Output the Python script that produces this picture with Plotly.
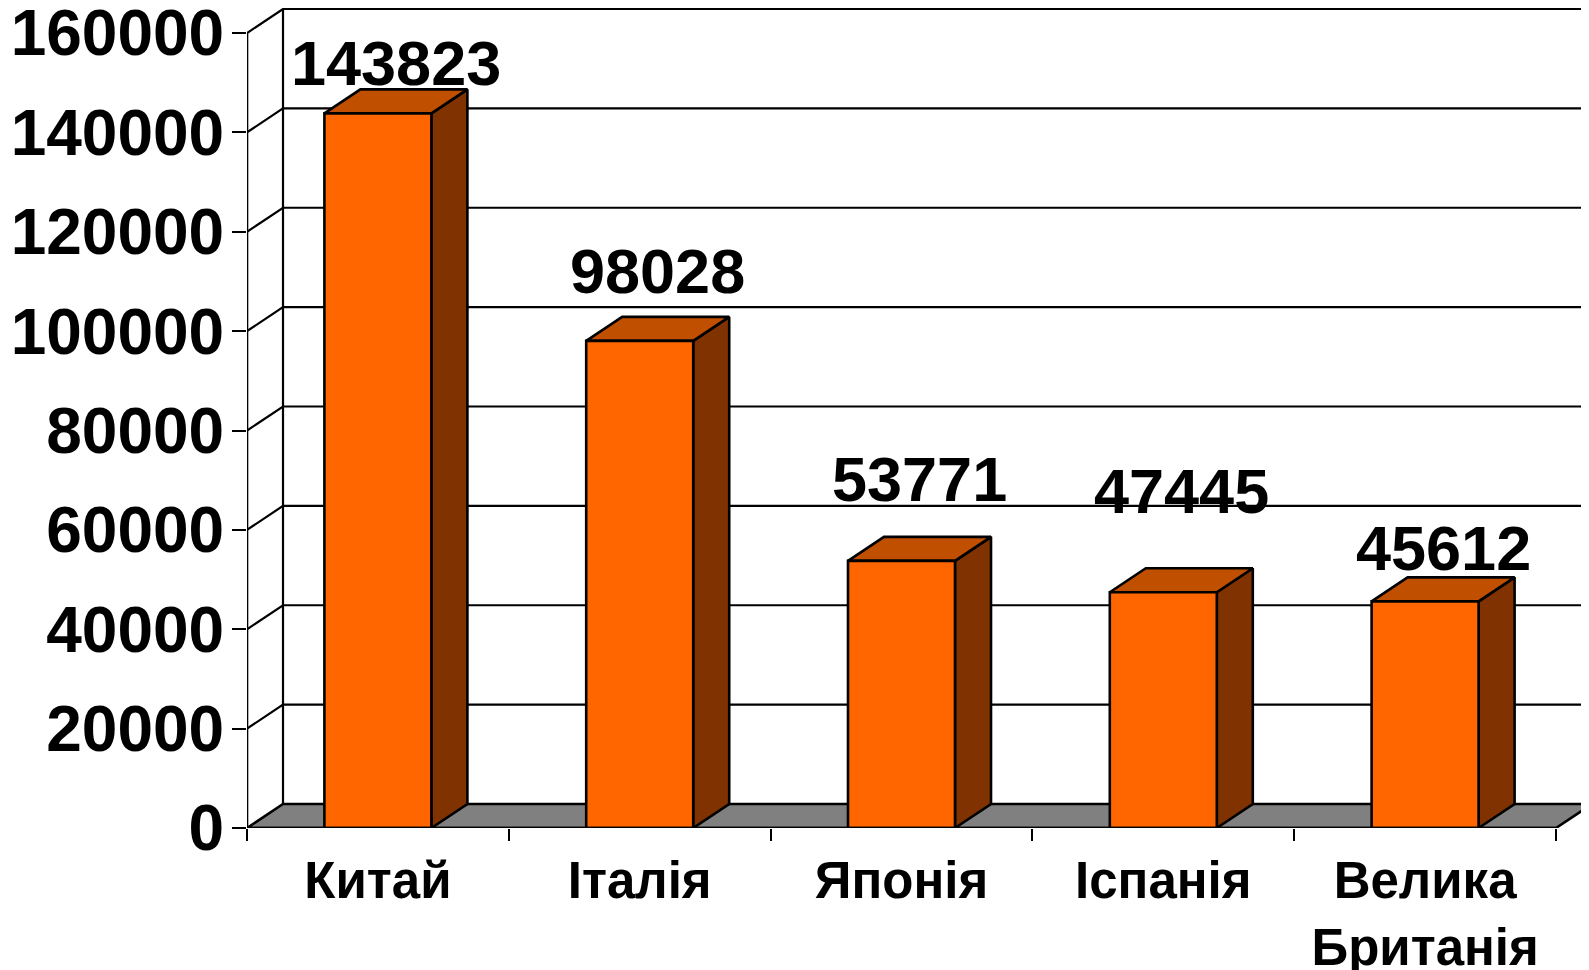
import plotly.graph_objects as go

# ---- data ----
countries = ["Китай", "Італія", "Японія", "Іспанія", "Велика<br>Британія"]
values = [143823, 98028, 53771, 47445, 45612]
y_ticks = [0, 20000, 40000, 60000, 80000, 100000, 120000, 140000, 160000]
y_max = 160000

# ---- geometry / style (pixels -> data units) ----
# page body has an 8px margin, so the figure is sized to fit inside the window
W, H = 1581, 962
ML, MB = 239, 142
PX_PER_CAT = 261.8
UNITS_PER_PX = y_max / 795.0
DX = 36 / PX_PER_CAT          # depth offset in category units
DY = 24 * UNITS_PER_PX        # depth offset in value units
HW = 53.5 / PX_PER_CAT        # half width of bar front face
x_lo = -0.5
x_hi = x_lo + (W - ML) / PX_PER_CAT
y_top = (H - MB) * UNITS_PER_PX
n = len(countries)

FRONT = "#FF6600"
TOP = "#C05000"
SIDE = "#803300"
FLOOR = "#808080"
FONT = "Liberation Sans"
LW = 2.6

fig = go.Figure()

def poly(xs, ys, fill, width=LW):
    fig.add_trace(go.Scatter(x=xs, y=ys, mode="lines", fill="toself", fillcolor=fill,
                             line=dict(color="black", width=width), hoverinfo="skip",
                             showlegend=False))

def line(xs, ys, width=LW):
    fig.add_trace(go.Scatter(x=xs, y=ys, mode="lines", line=dict(color="black", width=width),
                             hoverinfo="skip", showlegend=False))

# back wall gridlines + side wall diagonals
gx, gy = [], []
for t in y_ticks[1:]:
    gx += [x_lo, x_lo + DX, x_hi + 1, None]
    gy += [t, t + DY, t + DY, None]
line(gx, gy, 2.2)
# back wall left edge
line([x_lo + DX, x_lo + DX], [DY, y_max + DY], 2.2)

# floor
x_end = x_lo + n
poly([x_lo, x_end, x_end + DX, x_lo + DX, x_lo], [0, 0, DY, DY, 0], FLOOR)

# bars
fx, fy, tx, ty, sx, sy = [], [], [], [], [], []
for i, v in enumerate(values):
    a, b = i - HW, i + HW
    fx += [a, b, b, a, a, None]; fy += [0, 0, v, v, 0, None]
    tx += [a, b, b + DX, a + DX, a, None]; ty += [v, v, v + DY, v + DY, v, None]
    sx += [b, b + DX, b + DX, b, b, None]; sy += [0, DY, v + DY, v, 0, None]
poly(sx, sy, SIDE)
poly(tx, ty, TOP)
poly(fx, fy, FRONT)

# front axis lines
line([x_lo, x_lo], [0, y_max])
line([x_lo, x_end], [0, 0])

# value labels
label_shift = [50, 70, 82, 101, 53]
for i, v in enumerate(values):
    fig.add_annotation(x=i + 0.069, y=v, xref="x", yref="y", text=str(v), showarrow=False,
                       yanchor="middle", yshift=label_shift[i],
                       font=dict(family=FONT, size=63, color="black", weight="bold"))

fig.update_layout(
    width=W, height=H,
    margin=dict(l=ML, r=0, t=0, b=MB, autoexpand=False),
    paper_bgcolor="white", plot_bgcolor="white",
    showlegend=False,
    xaxis=dict(range=[x_lo, x_hi], showgrid=False, zeroline=False, showline=False,
               automargin=False, ticklabeloverflow="allow",
               tickmode="array", tickvals=list(range(n)), ticktext=countries,
               ticks="outside", ticklen=8, tickcolor="rgba(0,0,0,0)",
               tickfont=dict(family=FONT, size=51, color="black", weight="bold"),
               minor=dict(tickmode="array", tickvals=[x_lo + k for k in range(n + 1)],
                          ticks="outside", ticklen=12, tickwidth=2.4, tickcolor="black",
                          showgrid=False),
               fixedrange=True),
    yaxis=dict(range=[0, y_top], showgrid=False, zeroline=False, showline=False,
               automargin=False, ticklabeloverflow="allow", ticklabelstandoff=-5,
               tickmode="array", tickvals=y_ticks, ticktext=[str(t) for t in y_ticks],
               ticks="outside", ticklen=14, tickwidth=2.4, tickcolor="black",
               tickfont=dict(family=FONT, size=64, color="black", weight="bold"),
               fixedrange=True),
)

fig.write_html("out.html")
